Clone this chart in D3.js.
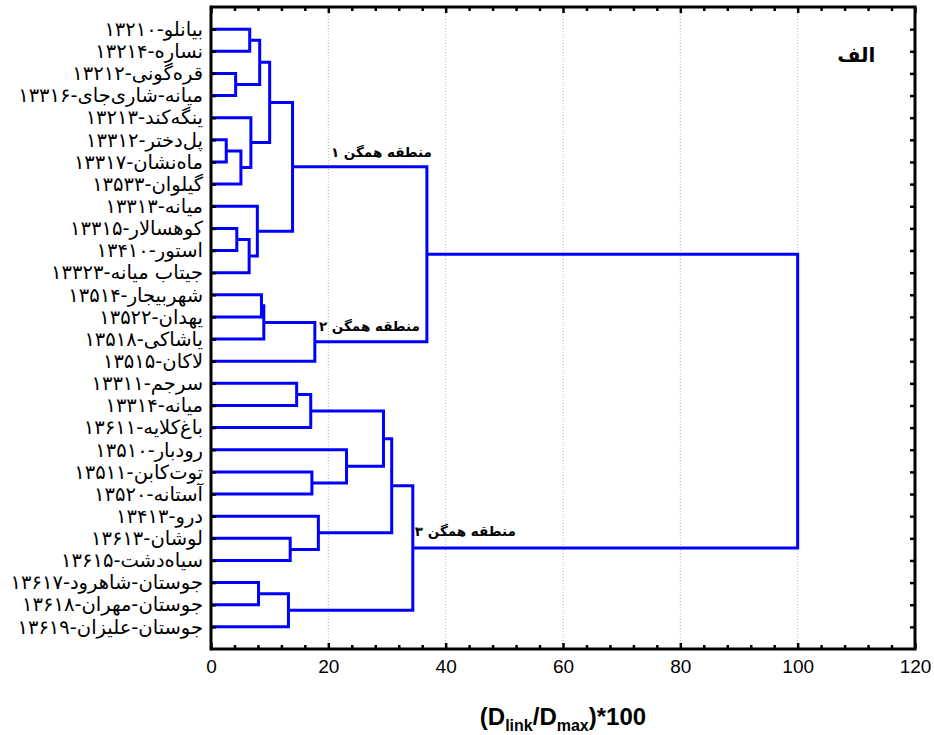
<!DOCTYPE html>
<html>
<head>
<meta charset="utf-8">
<script src="https://cdn.jsdelivr.net/npm/d3@7"></script>
<style>
    body { margin: 0; background: #fff; }
    .leaf text { font-family: "DejaVu Sans", sans-serif; font-size: 19.5px; fill: #000; }
    .xlab text { font-family: "Liberation Sans", Arial, sans-serif; font-size: 19px; fill: #000; }
</style>
</head>
<body>
<div class="view1"></div>
<script>
// station names, top to bottom as they sit on the y axis
const leafLabels = [
    "بیانلو-۱۳۲۱۰",
    "نساره-۱۳۲۱۴",
    "قره‌گونی-۱۳۲۱۲",
    "میانه-شاری‌جای-۱۳۳۱۶",
    "ینگه‌کند-۱۳۲۱۳",
    "پل‌دختر-۱۳۳۱۲",
    "ماه‌نشان-۱۳۳۱۷",
    "گیلوان-۱۳۵۳۳",
    "میانه-۱۳۳۱۳",
    "کوهسالار-۱۳۳۱۵",
    "استور-۱۳۴۱۰",
    "جیتاب میانه-۱۳۳۲۳",
    "شهربیجار-۱۳۵۱۴",
    "یهدان-۱۳۵۲۲",
    "یاشاکی-۱۳۵۱۸",
    "لاکان-۱۳۵۱۵",
    "سرجم-۱۳۳۱۱",
    "میانه-۱۳۳۱۴",
    "باغ‌کلایه-۱۳۶۱۱",
    "رودبار-۱۳۵۱۰",
    "توت‌کابن-۱۳۵۱۱",
    "آستانه-۱۳۵۲۰",
    "درو-۱۳۴۱۳",
    "لوشان-۱۳۶۱۳",
    "سیاه‌دشت-۱۳۶۱۵",
    "جوستان-شاهرود-۱۳۶۱۷",
    "جوستان-مهران-۱۳۶۱۸",
    "جوستان-علیزان-۱۳۶۱۹"
];

// linkage rows [a, b, (Dlink/Dmax)*100]; ids >= 28 point at earlier rows (28 = row 0)
const merges = [
    [0, 1, 6.6],
    [2, 3, 4.2],
    [28, 29, 8.3],
    [5, 6, 2.6],
    [31, 7, 5.1],
    [4, 32, 6.8],
    [30, 33, 10.0],
    [9, 10, 4.4],
    [35, 11, 6.5],
    [8, 36, 7.9],
    [34, 37, 13.9],
    [12, 13, 8.6],
    [39, 14, 9.0],
    [40, 15, 17.7],
    [38, 41, 36.8],
    [16, 17, 14.6],
    [43, 18, 17.0],
    [20, 21, 17.2],
    [19, 45, 23.1],
    [44, 46, 29.4],
    [23, 24, 13.5],
    [22, 48, 18.3],
    [47, 49, 30.8],
    [25, 26, 8.1],
    [51, 27, 13.2],
    [50, 52, 34.4],
    [42, 53, 100.0]
];

const xTicks = [0, 20, 40, 60, 80, 100, 120];
const xMinorTicks = [4, 8, 12, 16, 24, 28, 32, 36, 44, 48, 52, 56, 64, 68, 72, 76, 84, 88, 92, 96, 104, 108, 112, 116];

// homogeneous regions and the linkage row each one is hung on
const clusterNames = ["منطقه همگن ۱", "منطقه همگن ۲", "منطقه همگن ۳"];
const clusterRows = [10, 13, 25];
const panelTitle = "الف";

/** dendrogram drawn straight from the linkage rows */
class Dendro {

    constructor(labels, rows){
        this.labels = labels;
        this.rows = rows;

        this.margin = {top: 7, right: 19, bottom: 86, left: 211};
        this.width = 934 - this.margin.left - this.margin.right;
        this.height = 735 - this.margin.top - this.margin.bottom;
    }

    // turn linkage rows into nested nodes, root is the last row
    buildTree(){
        let nodes = this.labels.map((d, i) => ({id: i, name: d, h: 0}));
        this.rows.forEach((r, i) => {
            nodes.push({id: nodes.length, row: i, h: r[2], children: [nodes[r[0]], nodes[r[1]]]});
        });
        return d3.hierarchy(nodes[nodes.length - 1]);
    }

    draw(){
        let svg = d3.select(".view1").append("svg")
            .attr("width", 934)
            .attr("height", 735);

        let g = svg.append("g")
            .attr("transform", "translate(" + this.margin.left + "," + this.margin.top + ")");

        let x = d3.scaleLinear().domain([0, 120]).range([0, this.width]);
        let y = d3.scalePoint().domain(this.labels).range([0, this.height]).padding(1);

        //dotted grid on the major ticks
        g.append("g").selectAll("line")
            .data(xTicks.filter(d => d > 0 && d < 120))
            .join("line")
            .attr("x1", d => x(d)).attr("x2", d => x(d))
            .attr("y1", 0).attr("y2", this.height)
            .attr("stroke", "#b4b4b4")
            .attr("stroke-width", 1)
            .attr("stroke-dasharray", "1,2");

        let root = this.buildTree();
        // positions: leaves on the point scale, joins halfway between the children
        root.eachAfter(d => {
            d.px = x(d.data.h);
            d.py = d.children ? (d.children[0].py + d.children[1].py) / 2 : y(d.data.name);
        });

        let joins = root.descendants().filter(d => d.children);
        g.append("g").selectAll("path")
            .data(joins)
            .join("path")
            .attr("d", d => {
                let a = d.children[0], b = d.children[1];
                return "M" + a.px + "," + a.py + "H" + d.px + "V" + b.py + "H" + b.px;
            })
            .attr("fill", "none")
            .attr("stroke", "#0000ff")
            .attr("stroke-width", 3)
            .attr("stroke-linejoin", "miter");

        //labels for the three regions
        let byRow = {};
        joins.forEach(d => byRow[d.data.row] = d);
        let offs = [
            {dx: d => d.parent.px - d.px + 5, dy: -10, anchor: "end"},
            {dx: d => d.parent.px - d.px - 7, dy: -11, anchor: "end"},
            {dx: d => 2, dy: -12, anchor: "start"}
        ];
        g.append("g").selectAll("text")
            .data(clusterRows)
            .join("text")
            .attr("x", (r, i) => byRow[r].px + offs[i].dx(byRow[r]))
            .attr("y", (r, i) => byRow[r].py + offs[i].dy)
            .attr("text-anchor", (r, i) => offs[i].anchor)
            .attr("font-family", "DejaVu Sans, sans-serif")
            .attr("font-size", 13.5)
            .attr("font-weight", "bold")
            .text((r, i) => clusterNames[i]);

        // leaf axis on the left, bare ticks on the right
        let left = g.append("g").attr("class", "leaf")
            .call(d3.axisLeft(y).tickSize(-5).tickPadding(8));
        let right = g.append("g")
            .attr("transform", "translate(" + this.width + ",0)")
            .call(d3.axisRight(y).tickSize(-5).tickFormat(""));

        // top and bottom: minor and major ticks pointing in
        let bottom = g.append("g").attr("class", "xlab")
            .attr("transform", "translate(0," + this.height + ")")
            .call(d3.axisBottom(x).tickValues(xTicks).tickSize(-6).tickPadding(11).tickFormat(d3.format("d")));
        let bottomMinor = g.append("g")
            .attr("transform", "translate(0," + this.height + ")")
            .call(d3.axisBottom(x).tickValues(xMinorTicks).tickSize(-4).tickFormat(""));
        let top = g.append("g")
            .call(d3.axisTop(x).tickValues(xTicks).tickSize(-6).tickFormat(""));
        let topMinor = g.append("g")
            .call(d3.axisTop(x).tickValues(xMinorTicks).tickSize(-4).tickFormat(""));

        [left, right, bottom, bottomMinor, top, topMinor].forEach(a => {
            a.select(".domain").remove();
            a.selectAll(".tick line").attr("stroke", "#000").attr("stroke-width", 2.5);
        });

        // frame
        g.append("rect")
            .attr("x", 0).attr("y", 0)
            .attr("width", this.width).attr("height", this.height)
            .attr("fill", "none")
            .attr("stroke", "#000")
            .attr("stroke-width", 3);

        g.append("text")
            .attr("x", x(110))
            .attr("y", 55)
            .attr("text-anchor", "middle")
            .attr("font-family", "DejaVu Sans, sans-serif")
            .attr("font-size", 20)
            .attr("font-weight", "bold")
            .text(panelTitle);

        //x axis title with subscripts
        let t = g.append("text")
            .attr("x", x(60))
            .attr("y", this.height + 76)
            .attr("text-anchor", "middle")
            .attr("font-family", "Liberation Sans, Arial, sans-serif")
            .attr("font-size", 24)
            .attr("font-weight", "bold");
        t.append("tspan").text("(D");
        t.append("tspan").attr("font-size", 16).attr("dy", 6).text("link");
        t.append("tspan").attr("dy", -6).text("/D");
        t.append("tspan").attr("font-size", 16).attr("dy", 6).text("max");
        t.append("tspan").attr("dy", -6).text(")*100");
    }
}

let chart = new Dendro(leafLabels, merges);
chart.draw();
</script>
</body>
</html>
